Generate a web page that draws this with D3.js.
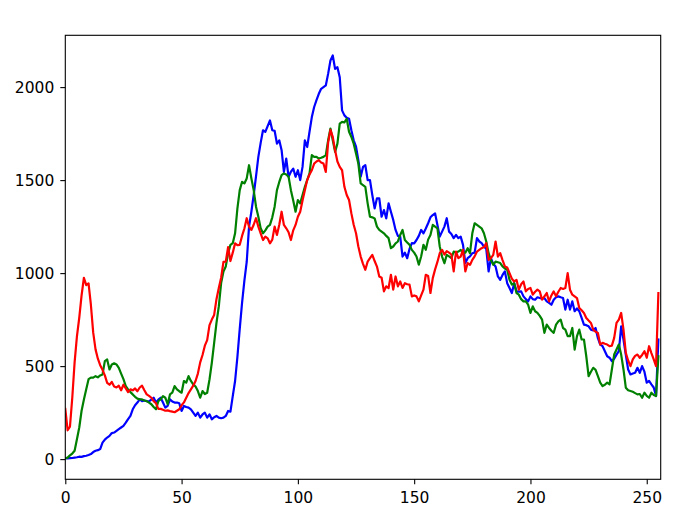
<!DOCTYPE html>
<html>
<head>
<meta charset="utf-8">
<script src="https://cdn.jsdelivr.net/npm/d3@7"></script>
<style>
  html, body { margin: 0; padding: 0; background: #ffffff; }
  svg { display: block; }
  text { font-family: "DejaVu Sans", sans-serif; }
</style>
</head>
<body>
<svg id="chart" width="689" height="532"></svg>
<script>
// Histogram bins 0..255 for each colour channel
const blueValues = [5,4,5,6,8,10,13,12,16,18,22,27,38,45,48,54,89,105,116,125,140,143,152,161,170,179,196,215,232,268,290,304,321,312,315,312,310,320,330,304,320,330,304,277,286,321,310,304,304,300,259,286,280,277,268,250,232,250,223,240,250,223,241,214,225,232,223,220,223,232,259,255,339,420,550,700,840,960,1060,1250,1330,1420,1520,1625,1700,1768,1759,1790,1821,1768,1765,1696,1714,1661,1544,1616,1518,1545,1562,1518,1553,1500,1571,1714,1678,1760,1839,1893,1930,1964,1991,2000,2009,2071,2143,2170,2098,2107,2053,1875,1848,1835,1830,1768,1714,1680,1607,1518,1571,1580,1500,1500,1420,1348,1402,1402,1303,1339,1294,1375,1330,1286,1232,1200,1196,1089,1110,1080,1130,1161,1160,1178,1200,1232,1214,1240,1268,1300,1312,1321,1259,1196,1223,1250,1295,1223,1210,1188,1205,1188,1196,1152,1054,1080,1090,1107,1110,1188,1170,1161,1143,1130,1009,1080,1050,1036,982,964,990,1009,946,920,893,946,902,900,902,875,860,848,875,860,857,870,866,862,866,848,840,830,857,870,875,870,866,804,857,804,848,795,810,795,759,723,720,714,696,692,705,650,616,607,580,553,545,527,540,562,580,714,643,560,482,455,460,464,491,464,500,470,411,420,402,385,339,643];

const greenValues = [4,8,20,30,45,107,170,260,320,375,430,438,438,446,440,450,455,527,536,482,509,515,509,491,460,430,393,375,360,348,335,325,321,321,315,312,304,295,280,268,312,321,339,330,295,348,357,393,375,365,357,420,411,446,420,402,390,366,330,366,350,357,428,518,625,732,821,946,1009,1036,1107,1152,1161,1214,1348,1446,1491,1482,1509,1580,1509,1446,1357,1303,1241,1214,1230,1250,1259,1300,1357,1446,1490,1527,1536,1530,1518,1446,1390,1330,1393,1375,1420,1464,1500,1536,1634,1625,1625,1616,1620,1625,1634,1714,1777,1714,1652,1696,1804,1813,1810,1830,1760,1732,1696,1643,1589,1482,1473,1464,1375,1303,1300,1294,1250,1232,1223,1214,1200,1188,1134,1143,1160,1170,1205,1232,1178,1165,1152,1125,1110,1089,1045,1089,1152,1125,1180,1205,1259,1250,1241,1143,1089,1053,1098,1090,1080,1116,1110,1116,1125,1107,1110,1134,1107,1214,1268,1259,1250,1241,1214,1170,1107,1070,1045,1062,1058,1054,1036,1025,1018,964,938,946,893,884,860,848,848,830,786,821,795,786,770,750,679,723,705,690,679,723,740,750,705,696,661,661,705,589,661,696,643,643,553,446,470,491,480,446,411,393,400,411,402,482,562,589,616,562,482,384,370,366,362,355,348,350,330,357,340,330,357,345,339,553];

const redValues = [270,155,175,330,520,660,760,880,975,935,945,830,680,590,540,505,480,450,410,400,415,390,385,395,370,400,380,360,375,370,380,365,385,395,370,348,340,330,312,300,270,270,265,260,262,258,255,252,260,268,290,305,330,355,375,395,420,460,520,560,610,640,720,750,775,860,920,975,1060,1062,1140,1065,1110,1160,1150,1152,1200,1240,1295,1250,1232,1260,1295,1250,1214,1178,1196,1187,1160,1180,1250,1205,1260,1330,1259,1241,1220,1178,1230,1259,1303,1330,1390,1446,1500,1530,1553,1589,1600,1607,1595,1589,1544,1700,1770,1732,1660,1600,1571,1553,1464,1420,1393,1321,1260,1214,1143,1089,1050,1018,1062,1080,1098,1065,1035,982,975,902,929,920,991,911,982,929,955,920,946,940,938,875,880,875,848,880,911,991,985,893,973,1020,1060,1107,1125,1100,1118,1110,1100,1009,1116,1080,1089,1125,1009,1054,1044,1071,1090,1116,1125,1134,1140,1161,1071,1080,1098,1170,1089,1107,1070,1036,1030,1000,970,955,964,911,940,955,902,915,920,884,900,911,902,857,875,893,848,880,902,875,900,920,915,920,1000,911,884,875,866,812,800,786,759,745,732,696,685,678,616,625,620,616,607,610,652,732,750,786,696,571,530,500,536,555,562,545,560,580,545,607,570,536,500,893];

const xTicks = [0, 50, 100, 150, 200, 250];
const yTicks = [0, 500, 1000, 1500, 2000];

const seriesList = [
  { name: "b", values: blueValues, color: "#0000ff" },
  { name: "g", values: greenValues, color: "#008000" },
  { name: "r", values: redValues, color: "#ff0000" }
];

const svg = d3.select("#chart");
const plotLeft = 65.3, plotRight = 660.7, plotTop = 35.3, plotBottom = 479.3;

const x = d3.scaleLinear().domain([0, 256]).range([plotLeft, plotRight]);
const y = d3.scaleLinear().domain([-108.5, 2278.5]).range([plotBottom, plotTop]);

svg.append("rect").attr("x", 0).attr("y", 0).attr("width", 689).attr("height", 532).attr("fill", "#ffffff");

const defs = svg.append("defs");
defs.append("clipPath").attr("id", "plotclip")
  .append("rect").attr("x", plotLeft).attr("y", plotTop).attr("width", plotRight - plotLeft).attr("height", plotBottom - plotTop);

const line = d3.line().x((d, i) => x(i)).y(d => y(d));

const plot = svg.append("g").attr("clip-path", "url(#plotclip)");
seriesList.forEach(s => {
  plot.append("path")
    .datum(s.values)
    .attr("d", line)
    .attr("fill", "none")
    .attr("stroke", s.color)
    .attr("stroke-width", 2.2)
    .attr("stroke-linejoin", "round")
    .attr("stroke-linecap", "square");
});

// axes
const fmt = d3.format("d");
const xAxis = d3.axisBottom(x).tickValues(xTicks).tickFormat(fmt).tickSize(5).tickPadding(8).tickSizeOuter(0);
const yAxis = d3.axisLeft(y).tickValues(yTicks).tickFormat(fmt).tickSize(5).tickPadding(6).tickSizeOuter(0);

const gx = svg.append("g").attr("transform", `translate(0,${plotBottom})`).call(xAxis);
const gy = svg.append("g").attr("transform", `translate(${plotLeft},0)`).call(yAxis);
[gx, gy].forEach(g => {
  g.select(".domain").remove();
  g.selectAll(".tick line").attr("stroke", "#000").attr("stroke-width", 1.1);
  g.selectAll(".tick text").attr("fill", "#000").style("font-size", "15.5px").style("font-family", "'DejaVu Sans', sans-serif");
});

// frame
svg.append("rect")
  .attr("x", plotLeft).attr("y", plotTop)
  .attr("width", plotRight - plotLeft).attr("height", plotBottom - plotTop)
  .attr("fill", "none").attr("stroke", "#000").attr("stroke-width", 1.1);
</script>
</body>
</html>
